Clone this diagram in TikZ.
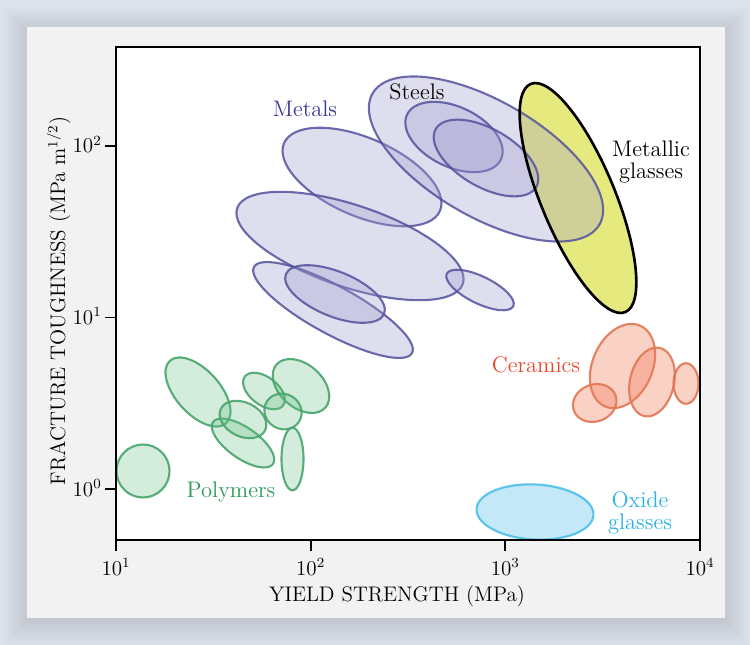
\documentclass[tikz,border=0pt]{standalone}
\usepackage{tikz}
\definecolor{backColor}{RGB}{221,225,233}
\definecolor{panelColor}{RGB}{242,242,242}
\definecolor{metalLine}{RGB}{84,82,158}
\definecolor{metalFill}{RGB}{160,156,206}
\definecolor{metalText}{RGB}{58,56,150}
\definecolor{polymerLine}{RGB}{72,165,108}
\definecolor{polymerFill}{RGB}{100,190,130}
\definecolor{polymerText}{RGB}{40,155,88}
\definecolor{ceramicLine}{RGB}{226,118,82}
\definecolor{ceramicFill}{RGB}{242,125,90}
\definecolor{ceramicText}{RGB}{232,72,44}
\definecolor{oxideLine}{RGB}{88,195,236}
\definecolor{oxideFill}{RGB}{197,232,248}
\definecolor{oxideText}{RGB}{40,178,230}
\definecolor{glassFill}{RGB}{230,234,126}
\tikzstyle{chart} = [x = 0.02cm, y = -0.02cm]
\tikzstyle{metalStyle} = [draw=metalLine, fill=metalFill, fill opacity=0.33, draw opacity=0.85, line width=1.2pt]
\tikzstyle{polymerStyle} = [draw=polymerLine, fill=polymerFill, fill opacity=0.28, draw opacity=0.9, line width=1.2pt]
\tikzstyle{ceramicStyle} = [draw=ceramicLine, fill=ceramicFill, fill opacity=0.35, draw opacity=0.9, line width=1.2pt]
\tikzstyle{oxideStyle} = [draw=oxideLine, fill=oxideFill, line width=1.2pt]
\tikzstyle{glassStyle} = [fill=glassFill]
\tikzstyle{glassEdge} = [draw=black, line width=1.5pt]
\tikzstyle{frameLine} = [black, line width=1pt]
\tikzstyle{tickText} = [font=\fontsize{12}{14}\selectfont, inner sep=0pt]
\tikzstyle{regionText} = [font=\fontsize{12.8}{12.4}\selectfont, inner sep=0pt, align=center]
\newcommand{\region}[6]{\filldraw [#1, rotate around={#6:(#2,#3)}] (#2,#3) ellipse [x radius=#4, y radius=#5];}
\newcommand{\regionEdge}[6]{\draw [#1, rotate around={#6:(#2,#3)}] (#2,#3) ellipse [x radius=#4, y radius=#5];}
\begin{document}
\begin{tikzpicture}[chart]
    \useasboundingbox (0,0) rectangle (750,645);
    \fill [backColor] (0,0) rectangle (750,645);
    \foreach \spread in {2,4,...,24} {
      \fill [black, opacity=0.007] (27 - \spread, 31 - \spread) rectangle (725 + \spread, 622 + \spread);
    }
    \fill [panelColor] (27,27) rectangle (725,618);
    \fill [white] (116,47) rectangle (700,540);
    \begin{scope}
    \clip (116,47) rectangle (700,540);
    % metallic glasses under the steels
    \region{glassStyle}{578}{198}{123.5}{37}{-67.5}
    % metals
    \region{metalStyle}{362}{177}{85}{39}{-23.5}
    \region{metalStyle}{350}{246}{119}{41}{-18.5}
    \region{metalStyle}{333}{310}{90}{24}{-28.6}
    \region{metalStyle}{335}{294}{53}{22.5}{-22}
    \region{metalStyle}{480}{290}{37}{13.5}{-26}
    % steels
    \region{metalStyle}{486}{159}{131}{58}{-30}
    \region{metalStyle}{454}{137}{52}{30}{-25.6}
    \region{metalStyle}{486}{158}{58}{29}{-30}
    \regionEdge{glassEdge}{578}{198}{123.5}{37}{-67.5}
    % polymers
    \region{polymerStyle}{143}{471}{26.5}{26.5}{0}
    \region{polymerStyle}{198}{392}{42}{22}{-48}
    \region{polymerStyle}{243}{443}{36.6}{15.4}{-35}
    \region{polymerStyle}{243}{419.5}{24.6}{17}{-26}
    \region{polymerStyle}{264}{391}{24}{14}{-37}
    \region{polymerStyle}{301}{386}{32.6}{21.6}{-41.5}
    \region{polymerStyle}{283}{411.5}{19}{17.5}{-30}
    \region{polymerStyle}{292.5}{459}{11}{31.3}{0}
    % ceramics
    \region{ceramicStyle}{622.5}{366}{44}{30}{66.5}
    \region{ceramicStyle}{594.7}{403}{22.2}{18.5}{20}
    \region{ceramicStyle}{652}{382}{35}{22}{77}
    \region{ceramicStyle}{686}{383.5}{12.5}{20.3}{0}
    % oxide glasses
    \region{oxideStyle}{535}{512}{58.5}{27.5}{-3}
    \end{scope}
    \draw [frameLine] (116,47) rectangle (700,540);
    \foreach \power in {1,...,4} {
      \pgfmathsetmacro{\xpos}{116 + 194.67 * (\power - 1)}
      \draw [frameLine] (\xpos, 540) -- (\xpos, 551);
      \node [tickText, anchor=base] (xTick\power) at (\xpos, 575) {$10^{\power}$};
    }
    \foreach \power in {0,1,2} {
      \pgfmathsetmacro{\ypos}{489 - 171.5 * \power}
      \draw [frameLine] (105, \ypos) -- (116, \ypos);
      \node [tickText, anchor=base east] (yTick\power) at (102, \ypos + 7) {$10^{\power}$};
    }
    \node [tickText, anchor=base] (xTitle) at (397, 601) {YIELD STRENGTH (MPa)};
    \node [tickText, anchor=base, rotate=90] (yTitle) at (65, 301) {FRACTURE TOUGHNESS (MPa m$^{1/2}$)};
    \node [regionText, text=metalText, anchor=base] (metals) at (305, 116.5) {Metals};
    \node [regionText, anchor=base] (steels) at (417, 100) {Steels};
    \node [regionText] (metallicGlasses) at (651, 162) {Metallic\\glasses};
    \node [regionText, text=polymerText, anchor=base] (polymers) at (231, 497) {Polymers};
    \node [regionText, text=ceramicText, anchor=base] (ceramics) at (536, 372) {Ceramics};
    \node [regionText, text=oxideText] (oxideGlasses) at (640, 513) {Oxide\\glasses};
\end{tikzpicture}
\end{document}
